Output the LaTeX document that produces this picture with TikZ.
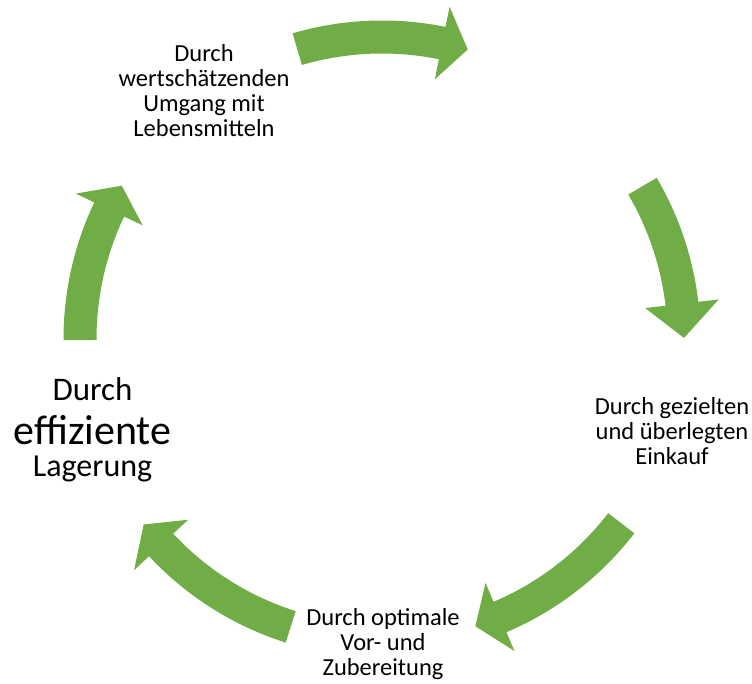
\documentclass[tikz,border=0pt]{standalone}
\usepackage{fontspec}
\setmainfont{Carlito}
\definecolor{arrowgreen}{HTML}{70AD47}
\tikzset{
  lbl/.style={align=center, inner sep=0pt, anchor=base, text=black,
    font=\fontsize{24.5}{25.2}\selectfont},
  cyc/.style={fill=arrowgreen, draw=none}
}
% #1 tail angle, #2 head base angle, #3 tip angle
\newcommand{\cycarrow}[3]{%
  \fill[cyc] (#1:318.5pt) arc[start angle=#1, end angle=#2, radius=318.5pt]
    -- (#2:339pt) -- (#3:302pt) -- (#2:265pt) -- (#2:285.5pt)
    arc[start angle=#2, end angle=#1, radius=285.5pt] -- cycle;}
\begin{document}
\begin{tikzpicture}[x=1pt,y=1pt]
\useasboundingbox (0,0) rectangle (752,684);
\begin{scope}[shift={(382,345)}]
  \cycarrow{106.3}{78.5}{73.5}
  \cycarrow{30.4}{6.7}{0.2}
  \cycarrow{-37.6}{-67}{-72}
  \cycarrow{-107.6}{-137}{-142.1}
  \cycarrow{180.2}{154.6}{149.5}
\end{scope}
\node[lbl] (umgang) at (204,547.3) {Durch\\wertschätzenden\\Umgang mit\\Lebensmitteln};
\node[lbl] (einkauf) at (672,219) {Durch gezielten\\und überlegten\\Einkauf};
\node[lbl] (zubereitung) at (383,8) {Durch optimale\\Vor- und\\Zubereitung};
\node[lbl, font=\fontsize{33}{33}\selectfont] (lagerung) at (92.5,207.3)
  {Durch\\[11pt]{\fontsize{42}{42}\selectfont effiziente}\\[-0.5pt]{\fontsize{32}{32}\selectfont Lagerung}};
\end{tikzpicture}
\end{document}
